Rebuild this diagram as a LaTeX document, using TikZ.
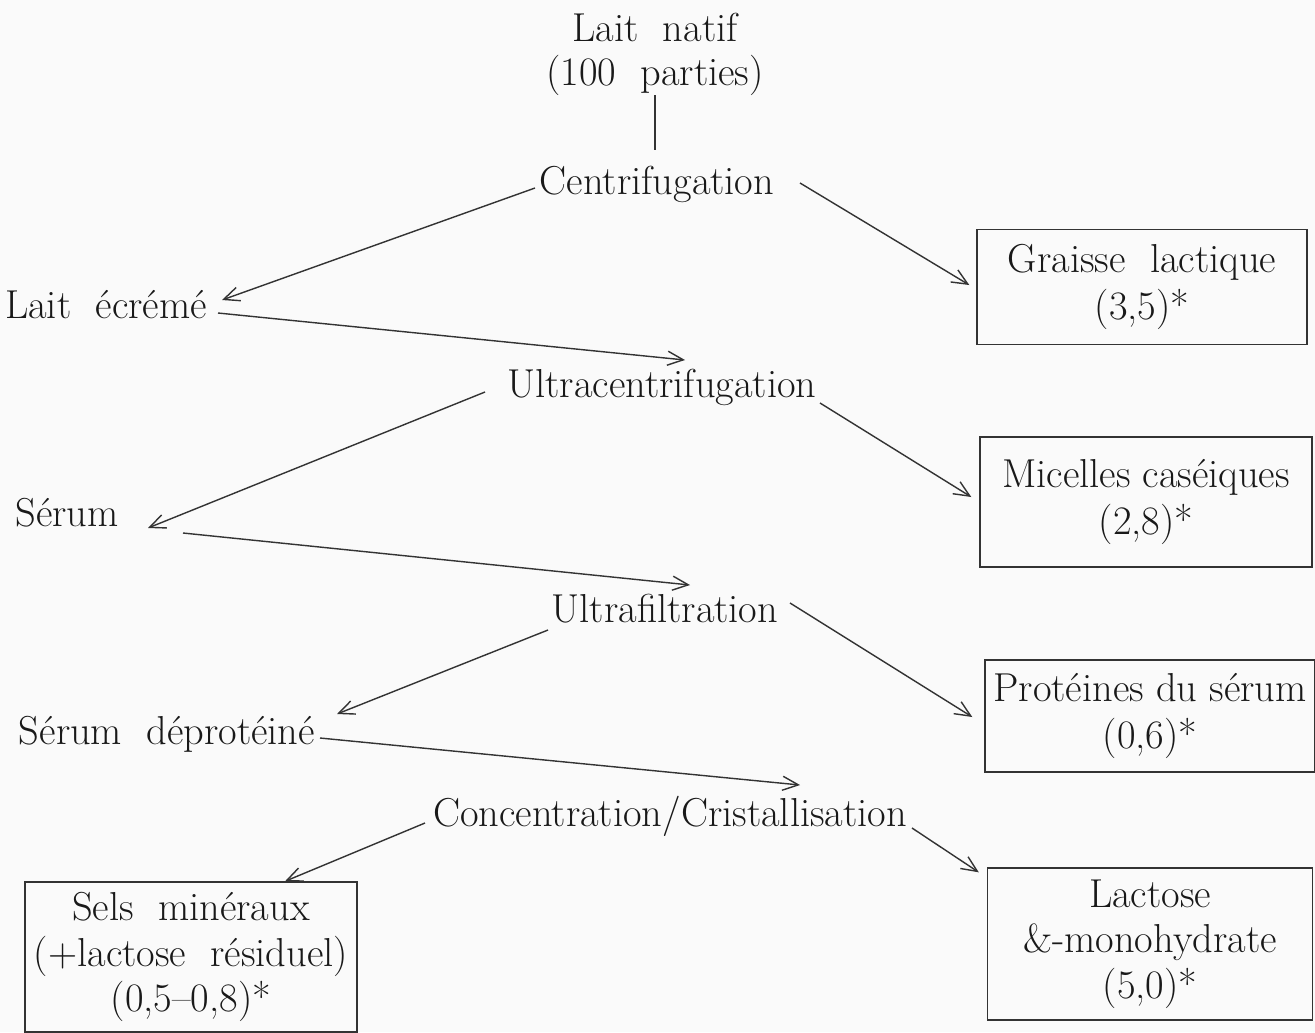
\documentclass[tikz,border=0pt]{standalone}
\usetikzlibrary{arrows.meta}
\begin{document}
\begin{tikzpicture}[x=0.02cm,y=-0.02cm,
  every node/.style={font=\fontsize{23}{25}\selectfont, text=black!90, align=center, inner sep=0pt},
  box/.style={draw=black!80, line width=0.8pt, inner sep=4pt},
  arr/.style={draw=black!80, line width=0.8pt, -{Straight Barb[length=9pt,width=8pt]}},
  ln/.style={draw=black!80, line width=0.8pt}]
\fill[black!2] (0,0) rectangle (1315,1032);
\useasboundingbox (0,0) rectangle (1315,1032);

\node (lait) at (655,54) {Lait\ \ natif\\(100\ \ parties)};
\node (cent) at (657,184) {Centrifugation};
\node (ecr)  at (106,305) {Lait\ \ écrémé};
\node[box, minimum width=330*0.02cm, minimum height=115*0.02cm] (gr) at (1142,287) {Graisse\ \ lactique\\[2pt](3,5)*};
\node (ultra) at (662,387) {Ultracentrifugation};
\node[box, minimum width=332*0.02cm, minimum height=130*0.02cm] (mic) at (1146,502) {Micelles caséiques\\[2pt](2,8)*};
\node (ser) at (67,513) {Sérum};
\node (uf) at (665,609) {Ultrafiltration};
\node[box, minimum width=330*0.02cm, minimum height=112*0.02cm] (prot) at (1150,716) {Protéines du sérum\\[2pt](0,6)*};
\node (sd) at (167,734) {Sérum\ \ déprotéiné};
\node (conc) at (670,816) {Concentration/Cristallisation};
\node[box, minimum width=332*0.02cm, minimum height=150*0.02cm] (sels) at (191,957) {Sels\ \ minéraux\\[1pt](+lactose\ \ résiduel)\\[1pt](0,5--0,8)*};
\node[box, minimum width=325*0.02cm, minimum height=152*0.02cm] (lac) at (1150,944) {Lactose\\[1pt]\&-monohydrate\\[1pt](5,0)*};

\draw[ln] ([shift={(0,41)}]lait.center) -- ([shift={(-2,-34)}]cent.center);

\draw[arr] ([shift={(-122,4)}]cent.center) -- ([shift={(116,-5)}]ecr.center);
\draw[arr] ([shift={(143,-1)}]cent.center) -- ([shift={(-7,-2)}]gr.west);
\draw[arr] ([shift={(112,8)}]ecr.center) -- ([shift={(23,-27)}]ultra.center);

\draw[arr] ([shift={(-177,5)}]ultra.center) -- ([shift={(81,15)}]ser.center);
\draw[arr] ([shift={(158,16)}]ultra.center) -- ([shift={(-8,-5)}]mic.west);
\draw[arr] ([shift={(116,20)}]ser.center) -- ([shift={(25,-24)}]uf.center);

\draw[arr] ([shift={(-117,21)}]uf.center) -- ([shift={(170,-20)}]sd.center);
\draw[arr] ([shift={(125,-6)}]uf.center) -- ([shift={(-12,1)}]prot.west);
\draw[arr] ([shift={(153,4)}]sd.center) -- ([shift={(130,-31)}]conc.center);

\draw[arr] ([shift={(-245,7)}]conc.center) -- ([shift={(94,0)}]sels.north);
\draw[arr] ([shift={(242,12)}]conc.center) -- ([shift={(-8,5)}]lac.north west);
\end{tikzpicture}
\end{document}
